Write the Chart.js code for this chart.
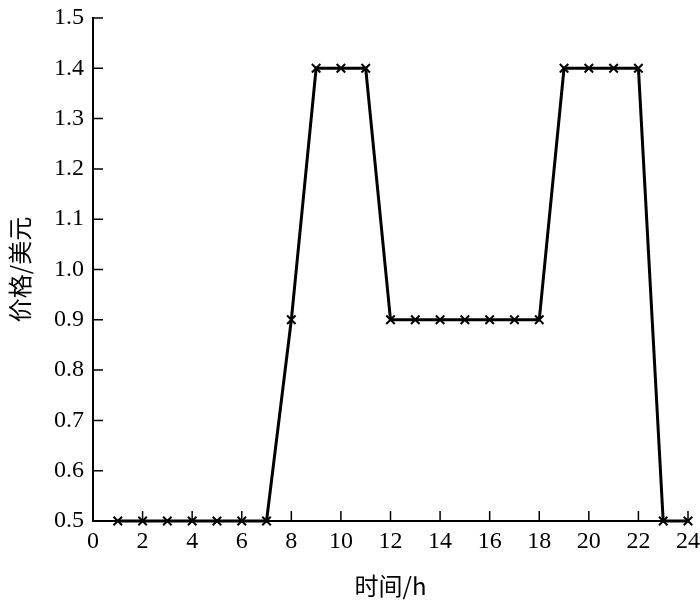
<!DOCTYPE html>
<html>
<head>
<meta charset="utf-8">
<script src="https://cdn.jsdelivr.net/npm/chart.js@4/dist/chart.umd.min.js"></script>
<style>
  body { margin: 0; background: #fff; }
  #wrap { width: 700px; height: 604px; }
</style>
</head>
<body>
<div id="wrap"><canvas id="priceChart"></canvas></div>
<script>
const hours = [1, 2, 3, 4, 5, 6, 7, 8, 9, 10, 11, 12, 13, 14, 15, 16, 17, 18, 19, 20, 21, 22, 23, 24];
const prices = [0.5, 0.5, 0.5, 0.5, 0.5, 0.5, 0.5, 0.9, 1.4, 1.4, 1.4, 0.9, 0.9, 0.9, 0.9, 0.9, 0.9, 0.9, 1.4, 1.4, 1.4, 1.4, 0.5, 0.5];
const xTicks = [0, 2, 4, 6, 8, 10, 12, 14, 16, 18, 20, 22, 24];
const yTicks = [0.5, 0.6, 0.7, 0.8, 0.9, 1.0, 1.1, 1.2, 1.3, 1.4, 1.5];

const serif = '"Liberation Serif", "Times New Roman", serif';
const cjk = '"Noto Sans CJK SC", sans-serif';

/* inward tick marks */
const innerTicks = {
  id: 'innerTicks',
  afterDraw(chart) {
    const ctx = chart.ctx;
    const x = chart.scales.x, y = chart.scales.y;
    ctx.save();
    ctx.strokeStyle = '#000';
    ctx.lineWidth = 1.5;
    ctx.beginPath();
    xTicks.forEach(v => {
      const px = x.getPixelForValue(v);
      ctx.moveTo(px, y.bottom);
      ctx.lineTo(px, y.bottom - 10);
    });
    yTicks.forEach(v => {
      const py = y.getPixelForValue(v);
      ctx.moveTo(x.left, py);
      ctx.lineTo(x.left + 10, py);
    });
    ctx.stroke();
    ctx.restore();
  }
};

new Chart(document.getElementById('priceChart'), {
  type: 'scatter',
  data: {
    datasets: [{
      data: hours.map((h, i) => ({ x: h, y: prices[i] })),
      showLine: true,
      borderColor: '#000',
      borderWidth: 3,
      pointStyle: 'crossRot',
      pointRadius: 6,
      pointBorderWidth: 2,
      pointBorderColor: '#000',
      pointBackgroundColor: '#000',
      clip: false
    }]
  },
  options: {
    responsive: true,
    maintainAspectRatio: false,
    animation: false,
    layout: { padding: { top: 18, right: 12, bottom: 0, left: 0 } },
    plugins: { legend: { display: false }, tooltip: { enabled: false } },
    scales: {
      x: {
        type: 'linear',
        min: 0, max: 24,
        afterFit(s) { s.height = 83; s.paddingLeft = 0; s.paddingRight = 0; },
        afterBuildTicks(s) { s.ticks = xTicks.map(v => ({ value: v })); },
        grid: { display: false, drawTicks: false },
        border: { color: '#000', width: 2 },
        ticks: { color: '#000', padding: 6, font: { family: serif, size: 24 } },
        title: {
          display: true, text: '时间/h', color: '#000',
          font: { family: cjk, size: 24 },
          padding: { top: 0, bottom: 4 }
        }
      },
      y: {
        min: 0.5, max: 1.5,
        afterFit(s) { s.width = 93; s.paddingTop = 0; s.paddingBottom = 0; },
        afterBuildTicks(s) { s.ticks = yTicks.map(v => ({ value: v })); },
        grid: { display: false, drawTicks: false },
        border: { color: '#000', width: 2 },
        ticks: {
          color: '#000', padding: 9, font: { family: serif, size: 24 },
          callback: v => v.toFixed(1)
        },
        title: {
          display: true, text: '价格/美元', color: '#000',
          font: { family: cjk, size: 24 },
          padding: { top: 5, bottom: 0 }
        }
      }
    }
  },
  plugins: [innerTicks]
});
</script>
</body>
</html>
